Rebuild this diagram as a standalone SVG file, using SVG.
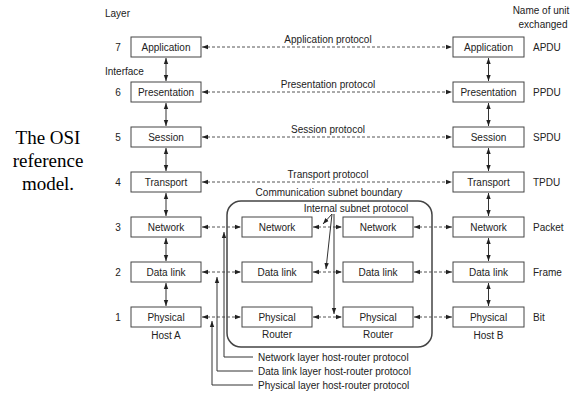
<svg xmlns="http://www.w3.org/2000/svg" width="579" height="394" viewBox="0 0 579 394">
<style>
text{font-family:"Liberation Sans",Arial,sans-serif;font-size:10px;fill:#222}
.c{text-anchor:middle}
.box rect{fill:#fff;stroke:#444;stroke-width:1}
.d{stroke:#555;stroke-width:1;stroke-dasharray:3,2;fill:none}
.s{stroke:#333;stroke-width:1;fill:none}
.cap{font-family:"Liberation Serif","Times New Roman",serif;font-size:19px;fill:#000}
</style>
<defs>
<marker id="ah" viewBox="0 0 6 6" refX="6" refY="3" markerWidth="6" markerHeight="6" orient="auto-start-reverse" markerUnits="userSpaceOnUse">
<path d="M0,0.8 L6,3 L0,5.2 Z" fill="#222"/>
</marker>
</defs>
<rect width="579" height="394" fill="#fff"/>

<g id="caption">
<text class="cap c" x="48" y="144">The OSI</text>
<text class="cap c" x="48" y="167">reference</text>
<text class="cap c" x="48" y="190">model.</text>
</g>

<g id="headers">
<text x="105" y="17">Layer</text>
<text x="105" y="75">Interface</text>
<text class="c" x="541" y="14">Name of unit</text>
<text class="c" x="543" y="28">exchanged</text>
<text class="c" x="118" y="51">7</text>
<text class="c" x="118" y="96">6</text>
<text class="c" x="118" y="141">5</text>
<text class="c" x="118" y="186">4</text>
<text class="c" x="118" y="231">3</text>
<text class="c" x="118" y="276">2</text>
<text class="c" x="118" y="321">1</text>
<text x="533" y="51">APDU</text>
<text x="533" y="96">PPDU</text>
<text x="533" y="141">SPDU</text>
<text x="533" y="186">TPDU</text>
<text x="533" y="231">Packet</text>
<text x="533" y="276">Frame</text>
<text x="533" y="321">Bit</text>
</g>

<g id="subnet">
<rect x="227" y="201" width="205" height="146" rx="14" fill="none" stroke="#444" stroke-width="1.5"/>
<text class="c" x="329" y="196">Communication subnet boundary</text>
<text class="c" x="356" y="212">Internal subnet protocol</text>
</g>

<g id="hostA" class="box">
<rect x="131" y="37" width="70" height="20"/><text class="c" x="166" y="51">Application</text>
<rect x="131" y="82" width="70" height="20"/><text class="c" x="166" y="96">Presentation</text>
<rect x="131" y="127" width="70" height="20"/><text class="c" x="166" y="141">Session</text>
<rect x="131" y="172" width="70" height="20"/><text class="c" x="166" y="186">Transport</text>
<rect x="131" y="217" width="70" height="20"/><text class="c" x="166" y="231">Network</text>
<rect x="131" y="262" width="70" height="20"/><text class="c" x="166" y="276">Data link</text>
<rect x="131" y="307" width="70" height="20"/><text class="c" x="166" y="321">Physical</text>
<text class="c" x="166" y="339">Host A</text>
</g>

<g id="hostB" class="box">
<rect x="453" y="37" width="71" height="20"/><text class="c" x="488.5" y="51">Application</text>
<rect x="453" y="82" width="71" height="20"/><text class="c" x="488.5" y="96">Presentation</text>
<rect x="453" y="127" width="71" height="20"/><text class="c" x="488.5" y="141">Session</text>
<rect x="453" y="172" width="71" height="20"/><text class="c" x="488.5" y="186">Transport</text>
<rect x="453" y="217" width="71" height="20"/><text class="c" x="488.5" y="231">Network</text>
<rect x="453" y="262" width="71" height="20"/><text class="c" x="488.5" y="276">Data link</text>
<rect x="453" y="307" width="71" height="20"/><text class="c" x="488.5" y="321">Physical</text>
<text class="c" x="488.5" y="339">Host B</text>
</g>

<g id="router1" class="box">
<rect x="242" y="217" width="70" height="20"/><text class="c" x="277" y="231">Network</text>
<rect x="242" y="262" width="70" height="20"/><text class="c" x="277" y="276">Data link</text>
<rect x="242" y="307" width="70" height="20"/><text class="c" x="277" y="321">Physical</text>
<text class="c" x="277" y="338">Router</text>
</g>

<g id="router2" class="box">
<rect x="343" y="217" width="70" height="20"/><text class="c" x="378" y="231">Network</text>
<rect x="343" y="262" width="70" height="20"/><text class="c" x="378" y="276">Data link</text>
<rect x="343" y="307" width="70" height="20"/><text class="c" x="378" y="321">Physical</text>
<text class="c" x="378" y="338">Router</text>
</g>

<g id="connectors">
<text class="c" x="328" y="43">Application protocol</text>
<text class="c" x="328" y="88">Presentation protocol</text>
<text class="c" x="328" y="133">Session protocol</text>
<text class="c" x="328" y="178">Transport protocol</text>
<path class="d" d="M202,47 H452" marker-start="url(#ah)" marker-end="url(#ah)"/>
<path class="d" d="M202,92 H452" marker-start="url(#ah)" marker-end="url(#ah)"/>
<path class="d" d="M202,137 H452" marker-start="url(#ah)" marker-end="url(#ah)"/>
<path class="d" d="M202,182 H452" marker-start="url(#ah)" marker-end="url(#ah)"/>
<path class="d" d="M202,227 H241" marker-start="url(#ah)" marker-end="url(#ah)"/>
<path class="d" d="M313,227 H342" marker-start="url(#ah)" marker-end="url(#ah)"/>
<path class="d" d="M414,227 H452" marker-start="url(#ah)" marker-end="url(#ah)"/>
<path class="d" d="M202,272 H241" marker-start="url(#ah)" marker-end="url(#ah)"/>
<path class="d" d="M313,272 H342" marker-start="url(#ah)" marker-end="url(#ah)"/>
<path class="d" d="M414,272 H452" marker-start="url(#ah)" marker-end="url(#ah)"/>
<path class="d" d="M202,317 H241" marker-start="url(#ah)" marker-end="url(#ah)"/>
<path class="d" d="M313,317 H342" marker-start="url(#ah)" marker-end="url(#ah)"/>
<path class="d" d="M414,317 H452" marker-start="url(#ah)" marker-end="url(#ah)"/>
<path class="s" d="M166,58 V81" marker-start="url(#ah)" marker-end="url(#ah)"/>
<path class="s" d="M166,103 V126" marker-start="url(#ah)" marker-end="url(#ah)"/>
<path class="s" d="M166,148 V171" marker-start="url(#ah)" marker-end="url(#ah)"/>
<path class="s" d="M166,193 V216" marker-start="url(#ah)" marker-end="url(#ah)"/>
<path class="s" d="M166,238 V261" marker-start="url(#ah)" marker-end="url(#ah)"/>
<path class="s" d="M166,283 V306" marker-start="url(#ah)" marker-end="url(#ah)"/>
<path class="s" d="M488.5,58 V81" marker-start="url(#ah)" marker-end="url(#ah)"/>
<path class="s" d="M488.5,103 V126" marker-start="url(#ah)" marker-end="url(#ah)"/>
<path class="s" d="M488.5,148 V171" marker-start="url(#ah)" marker-end="url(#ah)"/>
<path class="s" d="M488.5,193 V216" marker-start="url(#ah)" marker-end="url(#ah)"/>
<path class="s" d="M488.5,238 V261" marker-start="url(#ah)" marker-end="url(#ah)"/>
<path class="s" d="M488.5,283 V306" marker-start="url(#ah)" marker-end="url(#ah)"/>
<path class="s" d="M332,214 L323,224" marker-end="url(#ah)"/>
<path class="s" d="M332,214 L326,269" marker-end="url(#ah)"/>
<path class="s" d="M334,214 V314" marker-end="url(#ah)"/>
<path class="s" d="M253,357 H224 V232" marker-end="url(#ah)"/>
<path class="s" d="M253,371 H217 V277" marker-end="url(#ah)"/>
<path class="s" d="M253,385 H212 V321" marker-end="url(#ah)"/>
<text x="258" y="361">Network layer host-router protocol</text>
<text x="258" y="375">Data link layer host-router protocol</text>
<text x="258" y="389">Physical layer host-router protocol</text>
</g>
</svg>
